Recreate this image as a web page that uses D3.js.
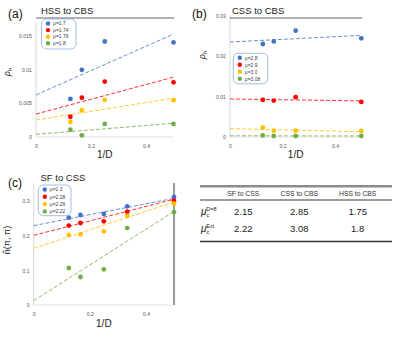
<!DOCTYPE html>
<html><head><meta charset="utf-8">
<script src="https://cdn.jsdelivr.net/npm/d3@7"></script>
<style>body{margin:0;background:#fff}svg{display:block;font-family:"Liberation Sans","Open Sans",sans-serif}</style>
</head><body><svg id="c" width="399" height="348"></svg>
<script>
const invD = [0.125, 0.1667, 0.25, 0.5];
const invDc = [0.125, 0.1667, 0.25, 0.3333, 0.5];
const xTicks = [0, 0.2, 0.4];
const colors = ["#4472C4", "#FF0000", "#FFC000", "#70AD47"];

// Panel (a) HSS to CBS
const aLabels = ["μ=1.7", "μ=1.74", "μ=1.76", "μ=1.8"];
const aVals = [
  [0.00564, 0.00994, 0.01414, 0.0140],
  [0.0030, 0.00583, 0.0082, 0.0081],
  [0.00223, 0.00396, 0.0055, 0.00545],
  [0.00108, 0.00025, 0.00193, 0.00193]
];
const aFit = [[0.00623, 0.01524], [0.0034, 0.00886], [0.00252, 0.00574], [0.0004, 0.00203]];
const aTicks = [0, 0.005, 0.01, 0.015];
const aTickLabels = ["0", "0.005", "0.01", "0.015"];

// Panel (b) CSS to CBS
const bLabels = ["μ=2.8", "μ=2.9", "μ=3.0", "μ=3.08"];
const bVals = [
  [0.0230, 0.02365, 0.0263, 0.0244],
  [0.00918, 0.0090, 0.00985, 0.00868],
  [0.0023, 0.00157, 0.00157, 0.0015],
  [0.0004, 0.00025, 0.00025, 0.00025]
];
const bFit = [[0.0235, 0.02514], [0.0094, 0.00893], [0.00206, 0.0013], [0.0003, 0.00025]];
const bTicks = [0, 0.01, 0.02, 0.03];
const bTickLabels = ["0", "0.01", "0.02", "0.03"];

// Panel (c) SF to CSS
const cLabels = ["μ=2.3", "μ=2.28", "μ=2.26", "μ=2.22"];
const cVals = [
  [0.252, 0.2596, 0.2625, 0.2846, 0.3115],
  [0.229, 0.2365, 0.2413, 0.269, 0.301],
  [0.202, 0.204, 0.2125, 0.2567, 0.2923],
  [0.1067, 0.0808, 0.1029, 0.222, 0.268]
];
const cFit = [[0.229, 0.3077], [0.201, 0.305], [0.1635, 0.297], [0.0125, 0.270]];
const cTicks = [0, 0.1, 0.2, 0.3];
const cTickLabels = ["0", "0.1", "0.2", "0.3"];

// Table
const tableCols = ["SF to CSS", "CSS to CBS", "HSS to CBS"];
const rowD8 = ["2.15", "2.85", "1.75"];
const rowExt = ["2.22", "3.08", "1.8"];

const svg = d3.select("#c");

function panel(o) {
  const g = svg.append("g");
  const x = d3.scaleLinear().domain([0, 0.5]).range([o.x0, o.x1]);
  const y = d3.scaleLinear().domain(o.ydom).range([o.y0, o.y1]);
  // axes
  g.append("line").attr("x1", x(0)).attr("x2", x(0)).attr("y1", y(o.ydom[0])).attr("y2", o.axTop)
    .attr("stroke", "#d9d9d9").attr("stroke-width", 1);
  g.append("line").attr("x1", x(0)).attr("x2", x(0.5)).attr("y1", y(0)).attr("y2", y(0))
    .attr("stroke", "#e3e3e3").attr("stroke-width", 1);
  // y ticks
  const yAxis = d3.axisLeft(y).tickValues(o.yticks).tickFormat((d, i) => o.ytl[i]).tickSize(0).tickPadding(4);
  const ya = g.append("g").attr("transform", `translate(${x(0)},0)`).call(yAxis);
  ya.select(".domain").remove();
  ya.selectAll("text").attr("font-size", 5.2).attr("fill", "#595959");
  const xAxis = d3.axisBottom(x).tickValues(xTicks).tickFormat(d => d === 0 ? "0" : String(d)).tickSize(0).tickPadding(7);
  const xa = g.append("g").attr("transform", `translate(0,${y(0)})`).call(xAxis);
  xa.select(".domain").remove();
  xa.selectAll("text").attr("font-size", 5.2).attr("fill", "#595959");
  if (o.vline) {
    g.append("line").attr("x1", x(0.5)).attr("x2", x(0.5)).attr("y1", o.axTop).attr("y2", y(0))
      .attr("stroke", "#6f6f6f").attr("stroke-width", 1.4);
  }
  // fit lines
  o.fit.forEach((f, i) => {
    g.append("line").attr("x1", x(0)).attr("x2", x(0.5)).attr("y1", y(f[0])).attr("y2", y(f[1]))
      .attr("stroke", colors[i]).attr("stroke-width", 1).attr("stroke-dasharray", "4,2").attr("opacity", 0.8);
  });
  // points
  o.vals.forEach((s, i) => {
    g.selectAll(null).data(s).enter().append("circle")
      .attr("cx", (d, j) => x(o.xs[j])).attr("cy", d => y(d)).attr("r", 2.4).attr("fill", colors[i]);
  });
  // title
  g.append("text").attr("x", o.tx).attr("y", o.ty).attr("font-size", 9.5).attr("fill", "#222").text(o.title);
  if (o.underline) {
    g.append("line").attr("x1", x(0)).attr("x2", x(0.5) + 1).attr("y1", o.ty + 4.5).attr("y2", o.ty + 4.5)
      .attr("stroke", "#404040").attr("stroke-width", 0.8);
  }
  g.append("text").attr("x", o.lx).attr("y", o.ly).attr("font-size", 12).attr("fill", "#111").text(o.label);
  // legend
  const L = o.leg;
  g.append("rect").attr("x", L.x).attr("y", L.y).attr("width", L.w).attr("height", L.h).attr("rx", 5)
    .attr("fill", "#fff").attr("stroke", "#8ea9db").attr("stroke-width", 0.8);
  o.labels.forEach((t, i) => {
    const yy = L.y + 4.5 + i * L.step;
    g.append("circle").attr("cx", L.x + 6.5).attr("cy", yy).attr("r", 2.2).attr("fill", colors[i]);
    g.append("text").attr("x", L.x + 11.5).attr("y", yy + 1.7).attr("font-size", 5).attr("fill", "#404040").text(t);
  });
  // axis labels
  g.append("text").attr("x", (x(0) + x(0.5)) / 2).attr("y", o.xly).attr("text-anchor", "middle")
    .attr("font-size", 10).attr("fill", "#222").text("1/D");
  const yl = g.append("text").attr("transform", `translate(${o.ylx},${o.yly}) rotate(-90)`)
    .attr("text-anchor", "middle").attr("font-size", 9).attr("fill", "#222");
  if (o.ylab === "rho") {
    yl.append("tspan").attr("font-style", "italic").text("ρ");
    yl.append("tspan").attr("font-size", 6).attr("dy", 2).text("h");
  } else {
    yl.text("n̂(π, π)");
  }
}

panel({x0: 36, x1: 173.5, y0: 137, y1: 35.7, ydom: [0, 0.015], axTop: 22, yticks: aTicks, ytl: aTickLabels,
  xs: invD, vals: aVals, fit: aFit, title: "HSS to CBS", tx: 41, ty: 13.5, underline: true,
  label: "(a)", lx: 8, ly: 18, labels: aLabels, leg: {x: 41.5, y: 19, w: 34.5, h: 30, step: 6.6},
  xly: 158, ylx: 10, yly: 72, ylab: "rho"});
panel({x0: 230, x1: 361.3, y0: 137, y1: 15.7, ydom: [0, 0.03], axTop: 15, yticks: bTicks, ytl: bTickLabels,
  xs: invD, vals: bVals, fit: bFit, title: "CSS to CBS", tx: 232, ty: 13.5, underline: true,
  label: "(b)", lx: 192, ly: 18, labels: bLabels, leg: {x: 233.3, y: 53.3, w: 34.5, h: 30.5, step: 7},
  xly: 158, ylx: 205, yly: 55, ylab: "rho"});
panel({x0: 33.7, x1: 174, y0: 305, y1: 201, ydom: [0, 0.3], axTop: 183, yticks: cTicks, ytl: cTickLabels,
  xs: invDc, vals: cVals, fit: cFit, title: "SF to CSS", tx: 40.5, ty: 181, underline: false, vline: true,
  label: "(c)", lx: 8, ly: 187, labels: cLabels, leg: {x: 38.3, y: 185, w: 32.7, h: 30.7, step: 7.3},
  xly: 327, ylx: 10, yly: 240, ylab: "n"});

// table
const T = svg.append("g");
const colX = [243.3, 299.3, 357.7];
T.append("line").attr("x1", 200).attr("x2", 392).attr("y1", 186.3).attr("y2", 186.3).attr("stroke", "#8c8c8c").attr("stroke-width", 2.5);
T.append("line").attr("x1", 200).attr("x2", 392).attr("y1", 200).attr("y2", 200).attr("stroke", "#222").attr("stroke-width", 0.9);
T.append("line").attr("x1", 200).attr("x2", 392).attr("y1", 241.5).attr("y2", 241.5).attr("stroke", "#333").attr("stroke-width", 1.6);
tableCols.forEach((t, i) => T.append("text").attr("x", colX[i]).attr("y", 196).attr("text-anchor", "middle")
  .attr("font-size", 6.8).attr("fill", "#333").text(t));
[rowD8, rowExt].forEach((row, r) => {
  const yy = 215 + r * 17;
  row.forEach((v, i) => T.append("text").attr("x", colX[i]).attr("y", yy).attr("text-anchor", "middle")
    .attr("font-size", 9.5).attr("fill", "#222").text(v));
  const lab = T.append("text").attr("x", 201).attr("y", yy).attr("fill", "#222").attr("font-size", 10);
  lab.append("tspan").attr("font-style", "italic").text("μ");
  lab.append("tspan").attr("font-size", 5.5).attr("dy", 2).text("c");
  lab.append("tspan").attr("font-size", 5.5).attr("dx", -3).attr("dy", -6.5).text(r === 0 ? "D=8" : "Ext");
});
</script></body></html>
